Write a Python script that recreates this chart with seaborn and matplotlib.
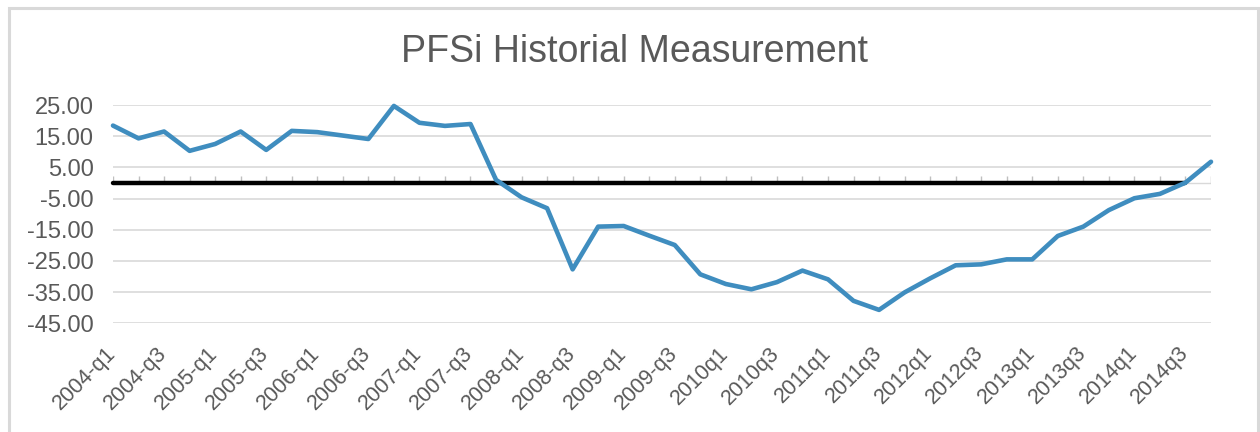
import numpy as np
import pandas as pd
import seaborn as sns
import matplotlib
matplotlib.use('Agg')
import matplotlib.pyplot as plt
from matplotlib.patches import Rectangle
from matplotlib.transforms import ScaledTranslation

# quarters 2004-q1 .. 2014-q4 (the source switches label style in 2010)
quarters = [f'{y}-q{q}' for y in range(2004, 2010) for q in range(1, 5)] + \
           [f'{y}q{q}' for y in range(2010, 2015) for q in range(1, 5)]

# PFSi values
pfsi = [18.4, 14.3, 16.5, 10.3, 12.5, 16.5, 10.6, 16.7, 16.3, 15.2,
        14.1, 24.7, 19.3, 18.3, 18.9, 1.0, -4.6, -8.1, -27.7, -14.0,
        -13.8, -16.9, -19.9, -29.3, -32.4, -34.1, -31.8, -28.1, -30.9, -37.8,
        -40.7, -35.1, -30.6, -26.4, -26.1, -24.5, -24.5, -17.0, -14.0, -8.7,
        -4.9, -3.5, 0.1, 6.8]

# black zero line runs up to this quarter
baseline_end = '2014q3'

y_ticks = [-45, -35, -25, -15, -5, 5, 15, 25]

df = pd.DataFrame({'quarter': quarters, 'pfsi': pfsi})
df['pos'] = np.arange(len(df))
df['baseline'] = 0.0
df.loc[df['pos'] > quarters.index(baseline_end), 'baseline'] = np.nan

sns.set_style('white')
plt.rcParams['font.family'] = ['Liberation Sans', 'DejaVu Sans']

grey_text = '#595959'
grid_col = '#D9D9D9'

fig = plt.figure(figsize=(12.6, 4.32), dpi=100)
ax = fig.add_axes([113 / 1260, 1 - 323.3 / 432, 1098 / 1260, 218.3 / 432])

for y in y_ticks:
    ax.axhline(y, color=grid_col, lw=1.2, zorder=0)
ax.axhline(0, color=grid_col, lw=1.0, zorder=1)
# small category tick marks sitting on the zero axis
ax.vlines(df['pos'], 0, 2.2, color='#BFBFBF', lw=1.0, zorder=1)

sns.lineplot(data=df, x='pos', y='baseline', color='black', lw=3.2, ax=ax,
             zorder=3, clip_on=False)
sns.lineplot(data=df, x='pos', y='pfsi', color='#3F8DBF', lw=3.3, ax=ax,
             zorder=4, clip_on=False)

ax.set_xlim(df['pos'].min(), df['pos'].max())
ax.set_ylim(-45, 25)
ax.set_yticks(y_ticks, [f'{v:.2f}' for v in y_ticks])
ax.set_xticks(df['pos'][::2], df['quarter'][::2])
ax.tick_params(axis='y', length=0, pad=14, labelsize=17, labelcolor=grey_text)
ax.tick_params(axis='x', length=0, pad=14, labelsize=15.5, labelcolor=grey_text)
shift = ScaledTranslation(0.07, 0, fig.dpi_scale_trans)
for lab in ax.get_xticklabels():
    lab.set_rotation(45)
    lab.set_ha('right')
    lab.set_transform(lab.get_transform() + shift)
ax.set_xlabel('')
ax.set_ylabel('')
for s in ax.spines.values():
    s.set_visible(False)

fig.text(634.5 / 1260, 1 - 62 / 432, 'PFSi Historial Measurement', ha='center',
         va='baseline', fontsize=27, color=grey_text)

# chart area border (bottom edge falls outside the picture)
fig.patches.append(Rectangle((8.5 / 1260, -0.05), 1249 / 1260, 1.05 - 8.5 / 432,
                             transform=fig.transFigure, fill=False,
                             ec=grid_col, lw=2.2))

fig.savefig('out.png', dpi=100)
